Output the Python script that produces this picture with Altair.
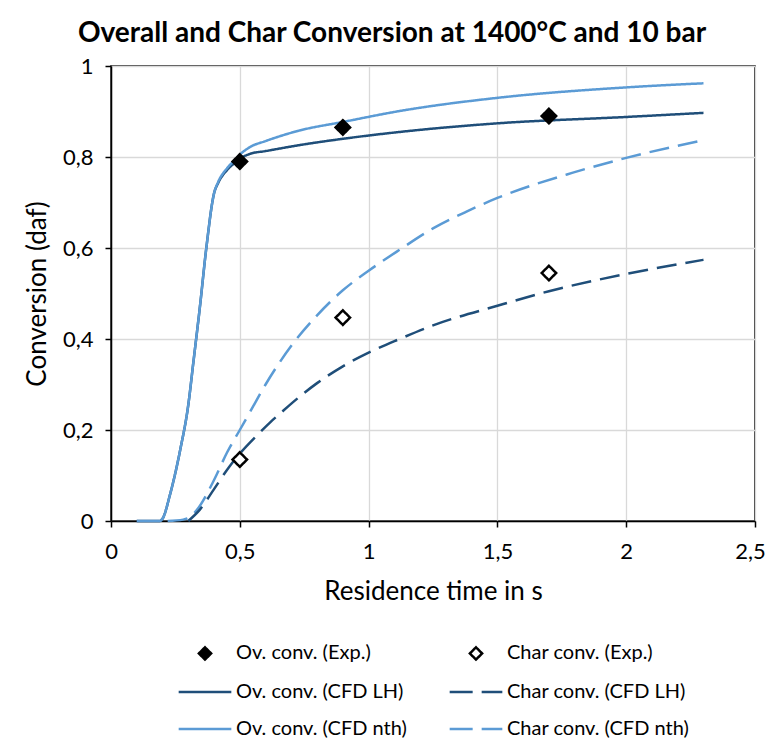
import altair as alt
import pandas as pd

FONT = "Lato"
DARK = "#1F4E79"
LIGHT = "#5B9BD5"

# legend order (filled column by column)
SERIES = [
    "Ov. conv. (Exp.)",
    "Ov. conv. (CFD LH)",
    "Ov. conv. (CFD nth)",
    "Char conv. (Exp.)",
    "Char conv. (CFD LH)",
    "Char conv. (CFD nth)",
]

# Experimental points
exp_t = [0.5, 0.9, 1.7]
ov_exp = [0.79, 0.865, 0.89]
char_exp = [0.135, 0.447, 0.545]

# CFD curves
ov_lh_t = [0.10, 0.19, 0.20, 0.23, 0.27, 0.30, 0.32, 0.345, 0.37, 0.40, 0.416, 0.45, 0.48, 0.50, 0.54, 0.60, 0.73, 0.90, 1.12, 1.50, 2.00, 2.30]
ov_lh_y = [0.0, 0.0, 0.005, 0.06, 0.16, 0.255, 0.35, 0.47, 0.60, 0.72, 0.743, 0.771, 0.787, 0.796, 0.807, 0.813, 0.826, 0.840, 0.855, 0.874, 0.888, 0.897]

ov_nth_t = [0.10, 0.19, 0.20, 0.23, 0.27, 0.30, 0.32, 0.345, 0.37, 0.40, 0.416, 0.45, 0.48, 0.50, 0.54, 0.60, 0.73, 0.90, 1.12, 1.50, 2.00, 2.30]
ov_nth_y = [0.0, 0.0, 0.005, 0.06, 0.16, 0.255, 0.35, 0.47, 0.60, 0.72, 0.745, 0.775, 0.793, 0.805, 0.822, 0.835, 0.858, 0.877, 0.901, 0.930, 0.953, 0.962]

char_lh_t = [0.30, 0.345, 0.40, 0.46, 0.50, 0.57, 0.62, 0.656, 0.70, 0.80, 0.90, 1.00, 1.12, 1.25, 1.50, 1.70, 2.00, 2.30]
char_lh_y = [0.0, 0.025, 0.07, 0.12, 0.148, 0.19, 0.218, 0.236, 0.258, 0.303, 0.34, 0.37, 0.40, 0.43, 0.473, 0.505, 0.543, 0.574]

char_nth_t = [0.22, 0.28, 0.31, 0.333, 0.40, 0.45, 0.50, 0.54, 0.60, 0.70, 0.80, 0.90, 1.00, 1.12, 1.25, 1.38, 1.50, 1.79, 2.00, 2.30]
char_nth_y = [0.0, 0.003, 0.01, 0.024, 0.09, 0.15, 0.20, 0.24, 0.30, 0.385, 0.452, 0.507, 0.55, 0.596, 0.643, 0.68, 0.71, 0.765, 0.798, 0.837]

x_ticks = [0, 0.5, 1, 1.5, 2, 2.5]
y_ticks = [0, 0.2, 0.4, 0.6, 0.8, 1]

DIAMOND = "M-1,0L0,-1L1,0L0,1Z"
LINE = "M-4.3,0H4.3"

pts = pd.DataFrame(
    {"t": exp_t + exp_t,
     "v": ov_exp + char_exp,
     "series": [SERIES[0]] * 3 + [SERIES[3]] * 3}
)

def line_df(t, y, name):
    return pd.DataFrame({"t": t, "v": y, "series": name})

label_expr = "replace(toString(datum.value), '.', ',')"

xenc = alt.X(
    "t:Q",
    scale=alt.Scale(domain=[0, 2.5], nice=False, zero=False),
    axis=alt.Axis(
        values=x_ticks, labelExpr=label_expr, title="Residence time in s",
        labelPadding=14, titlePadding=16, labelFlush=False,
        labelOffset={"condition": {"test": "datum.value == 2.5", "value": -5}, "value": 0},
    ),
)
yenc = alt.Y(
    "v:Q",
    scale=alt.Scale(domain=[0, 1], nice=False),
    axis=alt.Axis(
        values=y_ticks, labelExpr=label_expr, title="Conversion (daf)",
        labelPadding=12, titlePadding=12, labelFlush=False,
    ),
)

def curve(t, y, name, color, dash):
    return alt.Chart(line_df(t, y, name)).mark_line(
        color=color, strokeWidth=2.5, strokeDash=dash, interpolate="monotone"
    ).encode(x=xenc, y=yenc)

leg = alt.Legend(
    title=None, orient="none", legendX=84, legendY=577, columns=2,
    columnPadding=37, rowPadding=17, labelFontSize=20, labelFont=FONT,
    labelColor="black", labelOffset=21, symbolSize=150, symbolStrokeWidth=2.5,
    labelLimit=400,
)

SHAPES = [DIAMOND, LINE, LINE, DIAMOND, LINE, LINE]
FILLS = ["black", "black", "black", "white", "black", "black"]
STROKES = ["black", DARK, LIGHT, "black", DARK, LIGHT]
DASHES = [[1, 0], [1, 0], [1, 0], [1, 0], [23, 9], [23, 9]]

points = alt.Chart(pts).mark_point(filled=True, size=210, strokeWidth=2.5, opacity=1).encode(
    x=xenc,
    y=yenc,
    shape=alt.Shape("series:N", scale=alt.Scale(domain=SERIES, range=SHAPES), legend=leg),
    fill=alt.Fill("series:N", scale=alt.Scale(domain=SERIES, range=FILLS), legend=leg),
    stroke=alt.Stroke("series:N", scale=alt.Scale(domain=SERIES, range=STROKES), legend=leg),
    strokeDash=alt.StrokeDash("series:N", scale=alt.Scale(domain=SERIES, range=DASHES), legend=leg),
)

chart = alt.layer(
    curve(char_nth_t, char_nth_y, SERIES[5], LIGHT, [20, 9]),
    curve(char_lh_t, char_lh_y, SERIES[4], DARK, [20, 9]),
    curve(ov_lh_t, ov_lh_y, SERIES[1], DARK, [1, 0]),
    curve(ov_nth_t, ov_nth_y, SERIES[2], LIGHT, [1, 0]),
    points,
).properties(
    width=644,
    height=455,
    autosize=alt.AutoSizeParams(type="none"),
    padding={"left": 103, "top": 58, "right": 11, "bottom": 219},
    title=alt.TitleParams(
        "Overall and Char Conversion at 1400°C and 10 bar",
        font=FONT, fontSize=28, fontWeight="bold", color="black",
        anchor="middle", frame="group", dx=-41, offset=7,
    ),
).configure_axis(
    labelFont=FONT, titleFont=FONT, labelFontSize=22, titleFontSize=26,
    labelColor="black", titleColor="black", titleFontWeight="normal",
    gridColor="#D9D9D9", gridWidth=1.3, domainColor="black", domainWidth=1.5,
    tickColor="black", tickWidth=1.5, tickSize=6,
).configure_view(stroke="black", strokeWidth=1.5)

chart.save("out.html", embed_options={"renderer": "svg", "actions": False})
